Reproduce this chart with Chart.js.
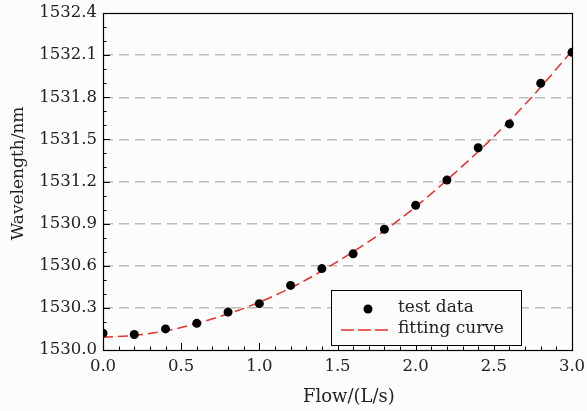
<!DOCTYPE html>
<html>
<head>
<meta charset="utf-8">
<script src="https://cdn.jsdelivr.net/npm/chart.js@4"></script>
<style>
  html, body { margin: 0; padding: 0; background: #fcfcfc; }
  #wrap { width: 587px; height: 411px; }
</style>
</head>
<body>
<div id="wrap"><canvas id="myChart" width="587" height="411"></canvas></div>
<script>
// measured points
var flow = [0, 0.2, 0.4, 0.6, 0.8, 1.0, 1.2, 1.4, 1.6, 1.8, 2.0, 2.2, 2.4, 2.6, 2.8, 3.0];
var wavelength = [1530.12, 1530.11, 1530.15, 1530.19, 1530.27, 1530.33, 1530.46, 1530.58,
                  1530.685, 1530.86, 1531.03, 1531.21, 1531.44, 1531.61, 1531.90, 1532.12];

// fitting curve
var fitFlow = [0, 0.25, 0.5, 0.75, 1.0, 1.25, 1.5, 1.75, 2.0, 2.25, 2.5, 2.75, 3.0];
var fitWavelength = [1530.09, 1530.11, 1530.16, 1530.24, 1530.34, 1530.47, 1530.63,
                     1530.81, 1531.02, 1531.26, 1531.52, 1531.81, 1532.13];

var xTicks = [0, 0.5, 1.0, 1.5, 2.0, 2.5, 3.0];
var yTicks = [1530.0, 1530.3, 1530.6, 1530.9, 1531.2, 1531.5, 1531.8, 1532.1, 1532.4];

var serif = "'DejaVu Serif', serif";

// frame + inward ticks
var framePlugin = {
    id: "frame",
    beforeDatasetsDraw: function (chart) {
        var ctx = chart.ctx;
        var a = chart.chartArea;
        var xs = chart.scales.x;
        var ys = chart.scales.y;
        ctx.save();
        ctx.strokeStyle = "#000";
        ctx.lineWidth = 1;
        ctx.beginPath();
        for (var i = 0; i <= 30; i++) {
            var v = i / 10;
            var px = Math.round(xs.getPixelForValue(v)) + 0.5;
            var len = (i % 5 === 0) ? 7 : 3.5;
            ctx.moveTo(px, a.bottom);
            ctx.lineTo(px, a.bottom - len);
        }
        for (var j = 0; j <= 24; j++) {
            var w = 1530 + j / 10;
            var py = Math.round(ys.getPixelForValue(w)) + 0.5;
            var l2 = (j % 3 === 0) ? 7 : 3.5;
            ctx.moveTo(a.left, py);
            ctx.lineTo(a.left + l2, py);
        }
        ctx.stroke();
        ctx.lineWidth = 1.2;
        ctx.strokeRect(Math.round(a.left) + 0.5, Math.round(a.top) + 0.5,
            Math.round(a.right - a.left), Math.round(a.bottom - a.top));
        ctx.restore();
    }
};

// legend box inside the plot
var legendPlugin = {
    id: "boxLegend",
    afterDraw: function (chart) {
        var ctx = chart.ctx;
        var a = chart.chartArea;
        var x0 = a.left + 228, y0 = a.bottom - 60, w = 190, h = 55;
        ctx.save();
        ctx.fillStyle = "#fcfcfc";
        ctx.fillRect(x0, y0, w, h);
        ctx.strokeStyle = "#000";
        ctx.lineWidth = 1;
        ctx.strokeRect(x0 + 0.5, y0 + 0.5, w, h);

        ctx.fillStyle = "#000";
        ctx.beginPath();
        ctx.arc(x0 + 37, y0 + 19, 4.5, 0, Math.PI * 2);
        ctx.fill();

        ctx.strokeStyle = "#e8302c";
        ctx.lineWidth = 1.5;
        ctx.setLineDash([13, 4]);
        ctx.beginPath();
        ctx.moveTo(x0 + 10, y0 + 40);
        ctx.lineTo(x0 + 61, y0 + 40);
        ctx.stroke();
        ctx.setLineDash([]);

        ctx.fillStyle = "#222";
        ctx.font = "17px " + serif;
        ctx.textBaseline = "middle";
        ctx.fillText(chart.data.datasets[0].label, x0 + 67, y0 + 18);
        ctx.fillText(chart.data.datasets[1].label, x0 + 67, y0 + 39);
        ctx.restore();
    }
};

var ctx = document.getElementById("myChart").getContext("2d");

new Chart(ctx, {
    type: "scatter",
    data: {
        datasets: [
            {
                label: "test data",
                data: flow.map(function (f, i) { return { x: f, y: wavelength[i] }; }),
                pointRadius: 4.5,
                pointHoverRadius: 4.5,
                pointBackgroundColor: "#000",
                pointBorderWidth: 0,
                showLine: false,
                order: 0
            },
            {
                label: "fitting curve",
                data: fitFlow.map(function (f, i) { return { x: f, y: fitWavelength[i] }; }),
                showLine: true,
                pointRadius: 0,
                borderColor: "#e8302c",
                borderWidth: 1.5,
                borderDash: [10, 5],
                cubicInterpolationMode: "monotone",
                order: 1
            }
        ]
    },
    plugins: [framePlugin, legendPlugin],
    options: {
        responsive: false,
        animation: false,
        layout: {
            padding: { top: 13, right: 15, left: 0, bottom: 0 }
        },
        plugins: {
            legend: { display: false },
            tooltip: { enabled: false }
        },
        scales: {
            x: {
                type: "linear",
                min: 0,
                max: 3,
                afterBuildTicks: function (scale) {
                    scale.ticks = xTicks.map(function (v) { return { value: v }; });
                },
                afterFit: function (scale) {
                    scale.height = 61;
                    scale.paddingLeft = 0;
                    scale.paddingRight = 0;
                },
                grid: { display: false, drawTicks: false },
                border: { display: false },
                ticks: {
                    padding: 7,
                    color: "#222",
                    font: { family: serif, size: 16.5 },
                    callback: function (v) { return v.toFixed(1); }
                },
                title: {
                    display: true,
                    text: "\u00a0\u00a0\u00a0\u00a0Flow/(L/s)",
                    color: "#222",
                    font: { family: serif, size: 18 },
                    padding: { top: 4, bottom: 3 }
                }
            },
            y: {
                type: "linear",
                min: 1530,
                max: 1532.4,
                afterBuildTicks: function (scale) {
                    scale.ticks = yTicks.map(function (v) { return { value: v }; });
                },
                afterFit: function (scale) {
                    scale.width = 103;
                    scale.paddingTop = 0;
                    scale.paddingBottom = 0;
                },
                grid: {
                    drawTicks: false,
                    lineWidth: 1.5,
                    color: function (c) {
                        if (!c.tick) return "rgba(0,0,0,0)";
                        var v = c.tick.value;
                        if (Math.abs(v - 1530) < 1e-6 || Math.abs(v - 1532.4) < 1e-6) {
                            return "rgba(0,0,0,0)";
                        }
                        return "#bdbdbd";
                    }
                },
                border: { display: false, dash: [10, 6] },
                ticks: {
                    padding: 6,
                    color: "#222",
                    font: { family: serif, size: 16.5 },
                    callback: function (v) { return v.toFixed(1); }
                },
                title: {
                    display: true,
                    text: "\u00a0\u00a0\u00a0Wavelength/nm",
                    color: "#222",
                    font: { family: serif, size: 17 },
                    padding: { top: 8, bottom: 0 }
                }
            }
        }
    }
});
</script>
</body>
</html>
